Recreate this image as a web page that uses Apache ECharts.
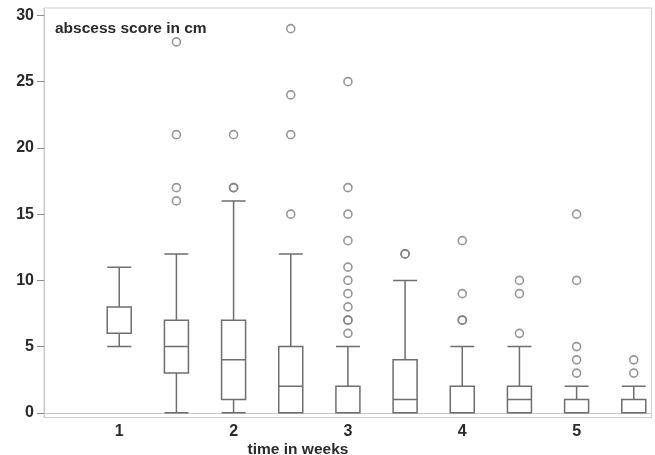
<!DOCTYPE html>
<html>
<head>
<meta charset="utf-8">
<script src="https://cdn.jsdelivr.net/npm/echarts@6/dist/echarts.min.js"></script>
<style>html,body{margin:0;padding:0;background:#fff;}#c{width:655px;height:455px;}</style>
</head>
<body>
<div id="c"></div>
<script>
// Box positions in weeks (two boxes per week)
var positions = [1, 1.5, 2, 2.5, 3, 3.5, 4, 4.5, 5, 5.5];
var whiskerLow  = [5, 0, 0, 0, 0, 0, 0, 0, 0, 0];
var quartile1   = [6, 3, 1, 0, 0, 0, 0, 0, 0, 0];
var medians     = [6, 5, 4, 2, 0, 1, 0, 1, 0, 0];
var quartile3   = [8, 7, 7, 5, 2, 4, 2, 2, 1, 1];
var whiskerHigh = [11, 12, 16, 12, 5, 10, 5, 5, 2, 2];
var outliers = [
  [],
  [16, 17, 21, 28],
  [17, 17, 21],
  [15, 21, 24, 29],
  [6, 7, 7, 8, 9, 10, 11, 13, 15, 17, 25],
  [12, 12],
  [7, 7, 9, 13],
  [6, 9, 10],
  [3, 4, 5, 10, 15],
  [3, 4]
];
var xTickLabels = [1, 2, 3, 4, 5];
var yTickLabels = [0, 5, 10, 15, 20, 25, 30];

var boxData = positions.map(function (p, i) {
  return [p, whiskerLow[i], quartile1[i], medians[i], quartile3[i], whiskerHigh[i]];
});
var outlierData = [];
positions.forEach(function (p, i) {
  outliers[i].forEach(function (v) { outlierData.push([p, v]); });
});

var font = 'Liberation Sans, Arial, sans-serif';
var chart = echarts.init(document.getElementById('c'), null, {renderer: 'canvas'});
chart.setOption({
  animation: false,
  backgroundColor: '#ffffff',
  title: [
    {text: 'abscess score in cm', left: 50, top: 16,
     textStyle: {fontFamily: font, fontSize: 15.5, fontWeight: 'bold', color: '#2a2a2a'}},
    {text: 'time in weeks', left: 293, top: 437, textAlign: 'center',
     textStyle: {fontFamily: font, fontSize: 15.5, fontWeight: 'bold', color: '#2a2a2a'}}
  ],
  grid: {left: 44, right: 3.5, top: 8, bottom: 37.5, show: true, borderColor: '#cfcfcf', borderWidth: 1, backgroundColor: '#ffffff'},
  xAxis: {
    type: 'value', min: 0.342, max: 5.655,
    splitLine: {show: false},
    axisLine: {show: true, lineStyle: {color: '#c8c8c8'}},
    axisTick: {show: false},
    axisLabel: {customValues: xTickLabels, margin: 6, fontFamily: font, fontSize: 16, fontWeight: 'bold', color: '#2a2a2a'}
  },
  yAxis: {
    type: 'value', min: -0.35, max: 30.56,
    splitLine: {show: false},
    axisLine: {show: true, onZero: false, lineStyle: {color: '#c8c8c8'}},
    axisTick: {show: true, customValues: yTickLabels, length: 7, lineStyle: {color: '#8a8a8a'}},
    axisLabel: {customValues: yTickLabels, margin: 10, fontFamily: font, fontSize: 16, fontWeight: 'bold', color: '#2a2a2a'}
  },
  series: [
    {
      type: 'boxplot',
      data: boxData,
      boxWidth: [24, 24],
      itemStyle: {color: '#ffffff', borderColor: '#6e6e6e', borderWidth: 1.5},
      emphasis: {disabled: true}
    },
    {
      type: 'scatter',
      data: outlierData,
      symbol: 'circle',
      symbolSize: 8,
      itemStyle: {color: 'rgba(255,255,255,0)', borderColor: '#7c7c7c', borderWidth: 1.6},
      emphasis: {disabled: true}
    }
  ]
});
</script>
</body>
</html>
